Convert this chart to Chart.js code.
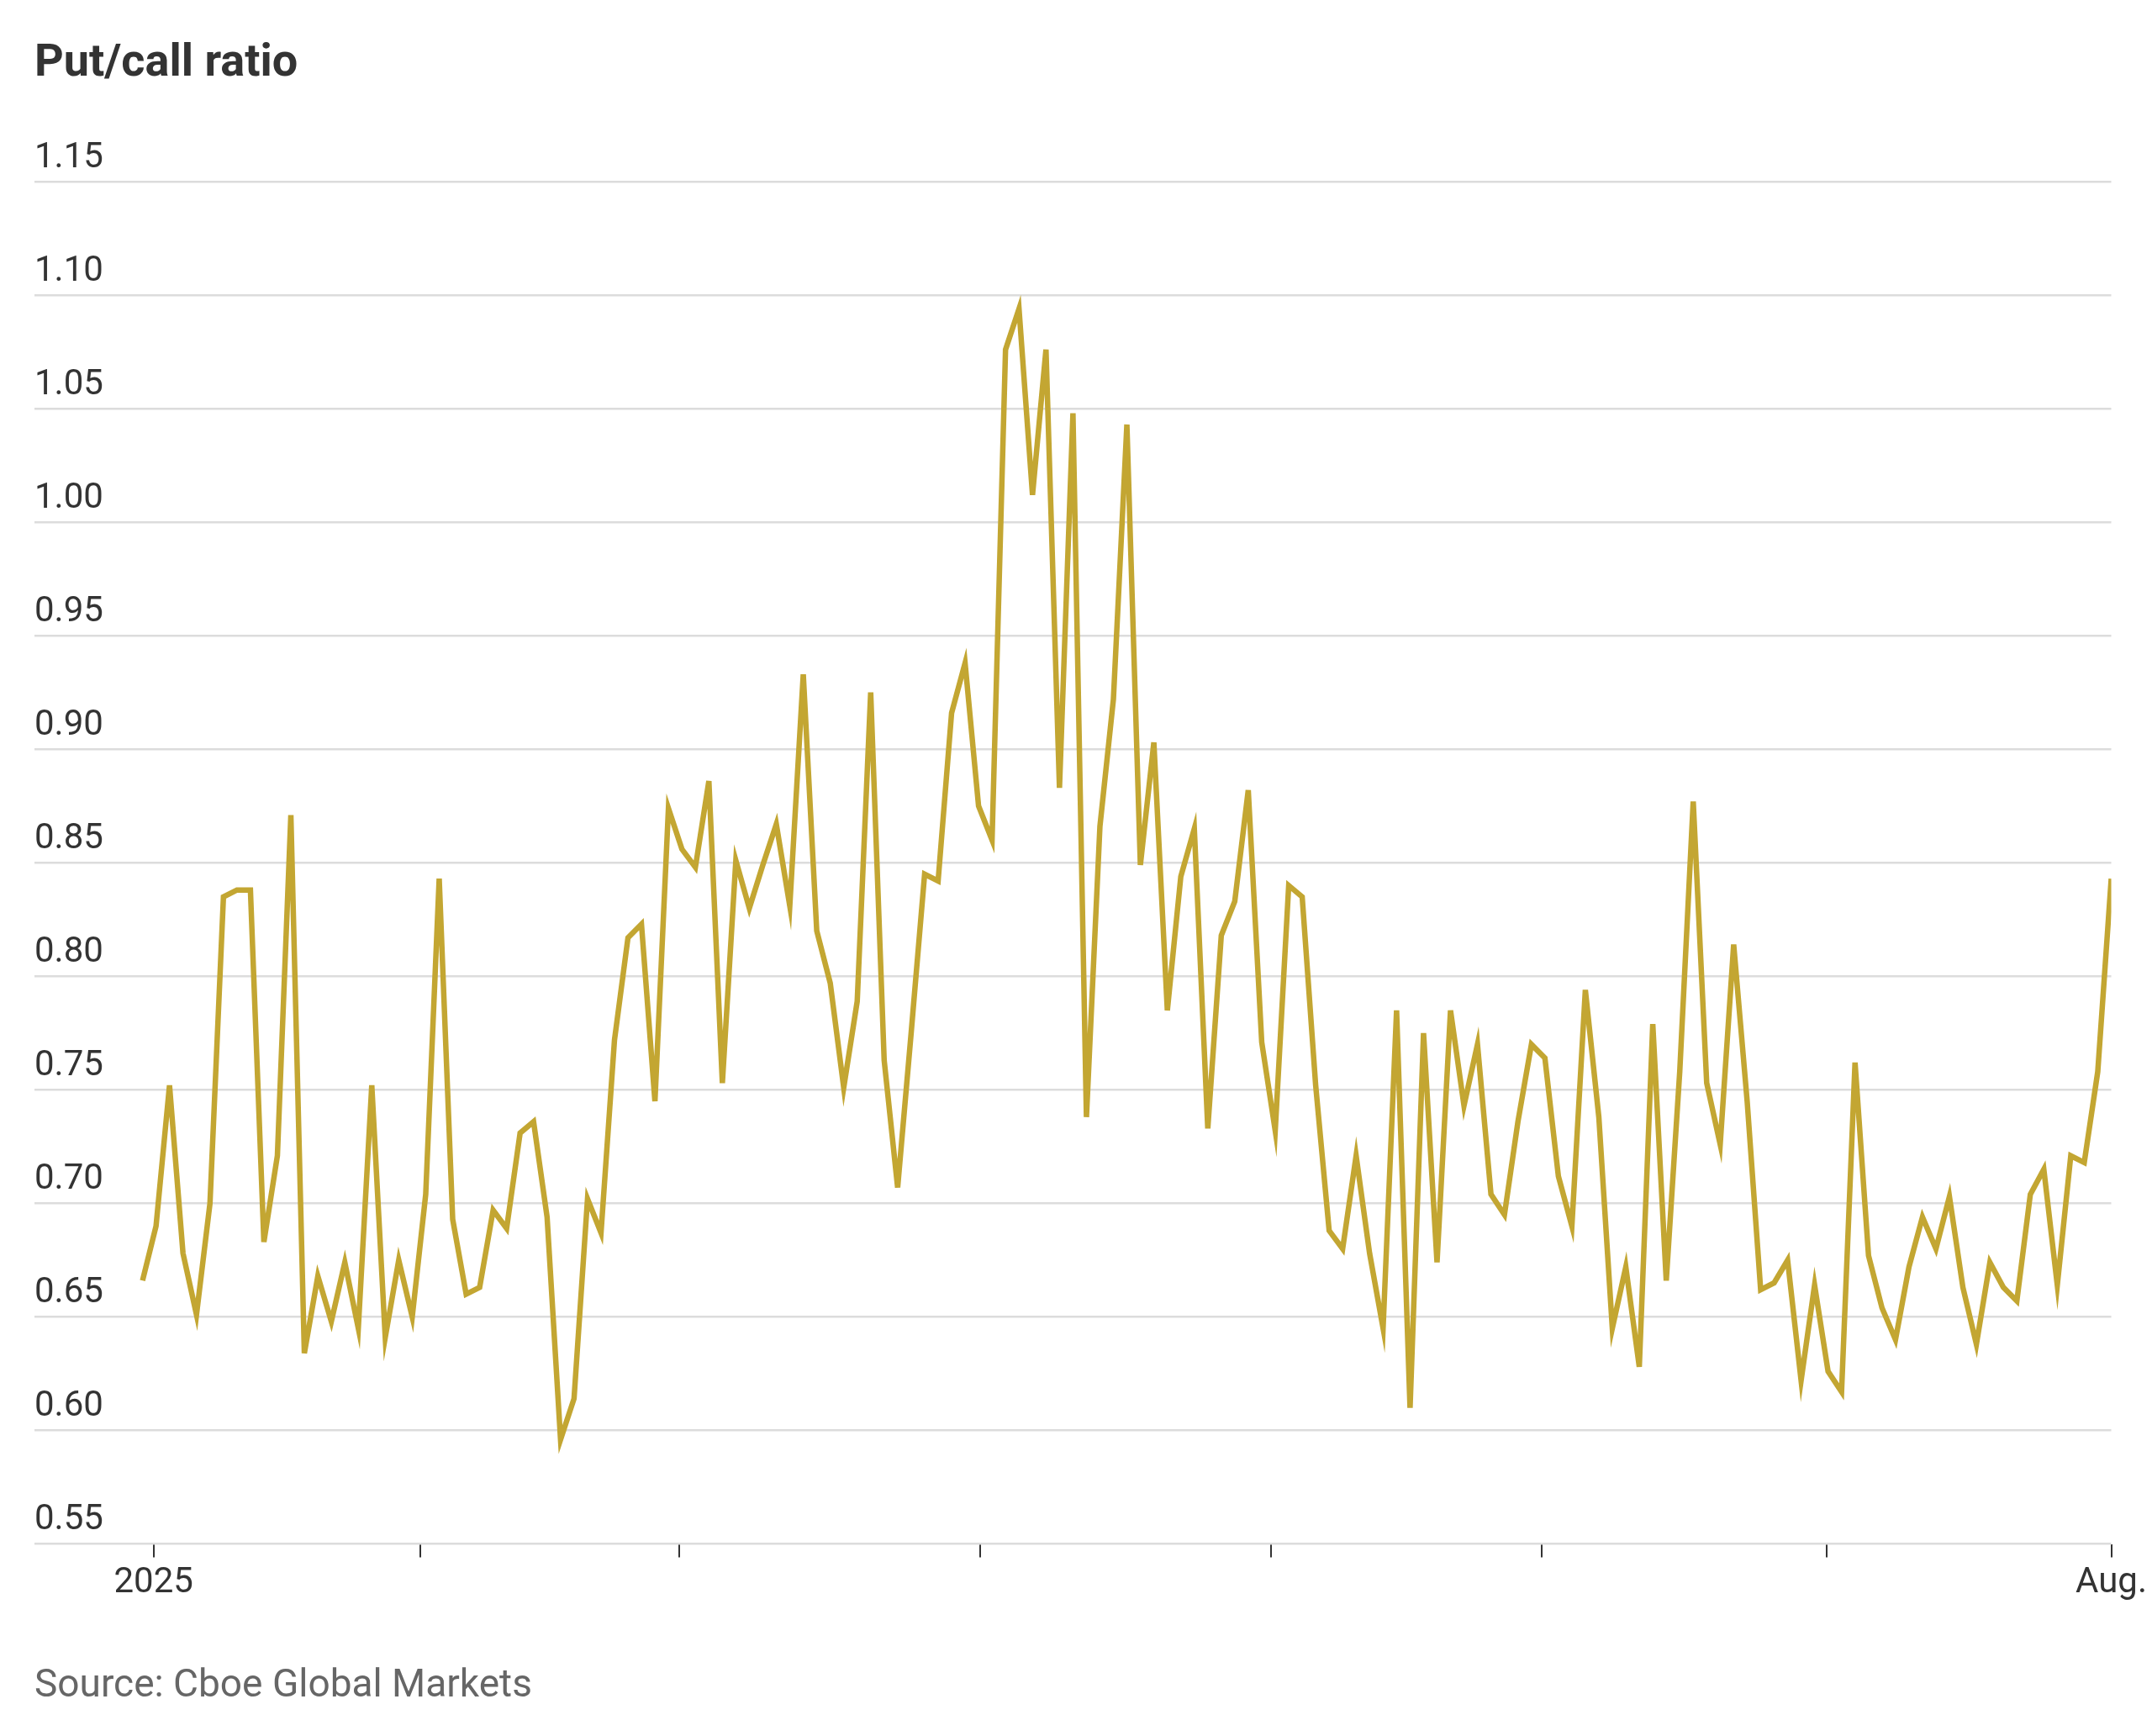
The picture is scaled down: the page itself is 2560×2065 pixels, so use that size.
<!DOCTYPE html>
<html><head><meta charset="utf-8">
<script src="https://cdn.jsdelivr.net/npm/chart.js@4"></script>
<style>
html,body{margin:0;padding:0;background:#fff;width:2560px;height:2065px;overflow:hidden}
#t{position:absolute;left:41px;top:40px;font:bold 54px "Liberation Sans Narrow","Roboto",sans-serif;color:#333}
#s{position:absolute;left:41px;top:1975px;font:46px "Liberation Sans Narrow","Roboto",sans-serif;color:#666}
#w{position:absolute;left:0;top:0;width:2560px;height:2065px}
</style></head><body>
<div id="t">Put/call ratio</div>
<div id="w"><canvas id="c"></canvas></div>
<div id="s">Source: Cboe Global Markets</div>
<script>
const values = [0.666,0.69,0.752,0.678,0.651,0.70,0.835,0.838,0.838,0.683,0.721,0.871,0.634,0.668,0.648,0.674,0.645,0.752,0.641,0.675,0.65,0.704,0.843,0.693,0.66,0.663,0.697,0.689,0.731,0.736,0.694,0.596,0.614,0.702,0.687,0.772,0.817,0.823,0.745,0.874,0.856,0.848,0.886,0.753,0.851,0.83,0.849,0.867,0.831,0.933,0.82,0.797,0.751,0.789,0.925,0.763,0.707,0.775,0.845,0.842,0.916,0.938,0.875,0.86,1.076,1.094,1.012,1.076,0.883,1.048,0.738,0.866,0.922,1.043,0.849,0.903,0.785,0.844,0.865,0.733,0.818,0.833,0.882,0.771,0.732,0.84,0.835,0.752,0.688,0.68,0.721,0.678,0.645,0.785,0.61,0.775,0.674,0.785,0.743,0.77,0.704,0.695,0.736,0.77,0.764,0.712,0.69,0.794,0.738,0.645,0.672,0.628,0.779,0.666,0.758,0.877,0.753,0.726,0.814,0.745,0.662,0.665,0.675,0.622,0.664,0.626,0.617,0.762,0.677,0.654,0.64,0.672,0.694,0.68,0.703,0.663,0.638,0.674,0.663,0.657,0.704,0.715,0.664,0.721,0.718,0.758,0.843];
const tickFractions = [0.0056,0.1412,0.2726,0.4256,0.5730,0.7107,0.8554,1];
const tickLabels = ['2025','','','','','','','Aug.'];
const yTicks = [0.55,0.60,0.65,0.70,0.75,0.80,0.85,0.90,0.95,1.00,1.05,1.10,1.15];
const N = values.length;
const pts = values.map((v,i)=>({x:i,y:v}));
const F = '"Liberation Sans Narrow","Roboto",sans-serif';
new Chart(document.getElementById('c'),{
 type:'line',
 data:{datasets:[{data:pts,borderColor:'#c3a632',borderWidth:6.5,pointRadius:0,tension:0,borderJoinStyle:'miter'}]},
 options:{responsive:true,maintainAspectRatio:false,animation:false,
  layout:{padding:{top:216,left:41,right:42,bottom:150}},
  plugins:{legend:{display:false},tooltip:{enabled:false}},
  scales:{
   x:{type:'linear',min:-0.0549*(N-1),max:N-1,
    afterBuildTicks:a=>{a.ticks=tickFractions.map(f=>({value:f*(N-1)}));},
    ticks:{autoSkip:false,maxRotation:0,font:{family:F,size:42},color:'#333',padding:6,
      callback:(v,i)=>tickLabels[i]},
    grid:{drawOnChartArea:false,drawTicks:true,tickLength:16,color:'#333',lineWidth:2},
    border:{display:false}},
   y:{min:0.55,max:1.15,
    afterBuildTicks:a=>{a.ticks=yTicks.map(v=>({value:v}));},
    ticks:{mirror:true,padding:0,labelOffset:-28,font:{family:F,size:42},color:'#333',
      callback:v=>v.toFixed(2)},
    grid:{drawTicks:false,color:'#dcdcdc',lineWidth:2.5},
    border:{display:false}}
  }}
});
</script></body></html>
